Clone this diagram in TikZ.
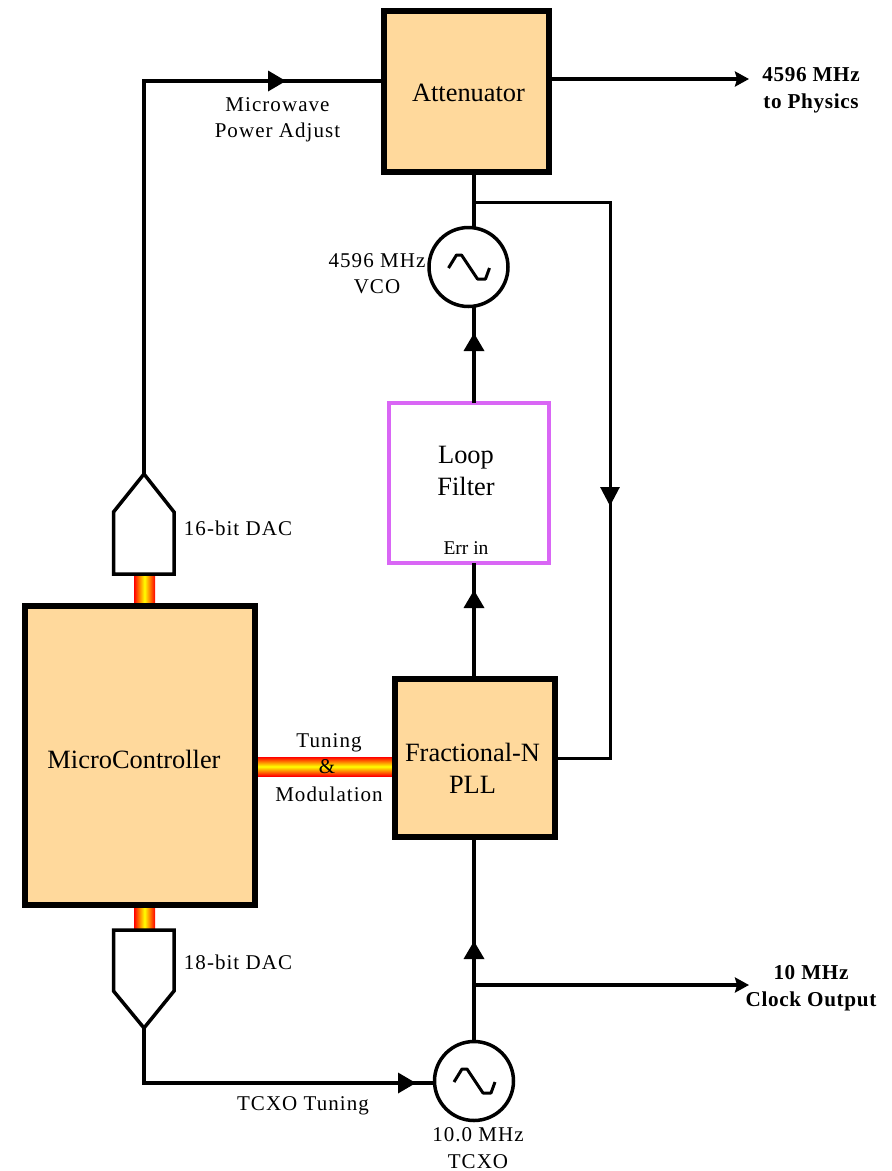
\documentclass[tikz,border=0pt]{standalone}
\usepackage{fontspec}
\setmainfont{Liberation Serif}
\newfontfamily\lblfont[LetterSpace=5]{Liberation Serif}
\newfontfamily\lblbold[LetterSpace=3,BoldFont={Liberation Serif Bold}]{Liberation Serif Bold}
\usetikzlibrary{arrows.meta}
\definecolor{boxfill}{HTML}{FFD99C}
\definecolor{filterpink}{HTML}{D966F5}
\tikzset{
  x=1pt,y=-1pt,
  mainbox/.style={draw=black,line width=6pt,fill=boxfill,inner sep=0pt,outer sep=0pt},
  filterbox/.style={draw=filterpink,line width=4pt,fill=white,inner sep=0pt,outer sep=0pt},
  boxtext/.style={inner sep=0pt,align=center,font=\fontsize{26.4}{32}\selectfont},
  lbl/.style={inner sep=0pt,align=center,font=\fontsize{21}{26.5}\lblfont},
  boldlbl/.style={inner sep=0pt,align=center,font=\fontsize{21.2}{27}\lblbold},
  wire/.style={line width=3.5pt},
  thinwire/.style={line width=3pt},
  arr/.style={wire,-{Triangle[length=18pt,width=20pt]}},
  thinarr/.style={line width=3.3pt,-{Stealth[length=14pt,width=15pt,inset=2pt]}},
  downarr/.style={thinwire,-{Triangle[length=19pt,width=19pt]}},
  osc/.style={circle,draw=black,line width=3.5pt,fill=white,minimum size=79pt,inner sep=0pt,outer sep=0pt},
  dacshape/.style={draw=black,line width=3.5pt,fill=white,line join=miter},
  busv/.style={left color=red,right color=red,middle color=yellow,draw=none},
  bush/.style={top color=red,bottom color=red,middle color=yellow,draw=none},
  sinepic/.pic={\draw[line width=3pt,line join=round] (-20,1)--(-12,-12)--(-7,-12)--(9,12)--(17,12)--(21,1);}
}
\begin{document}
\begin{tikzpicture}
\useasboundingbox (0,0) rectangle (892,1171);
% data buses
\path[busv] (134,574) rectangle (155,606);
\path[busv] (134,906) rectangle (155,932);
\path[bush] (256,757) rectangle (394,776);
% boxes
\node[mainbox,minimum width=165pt,minimum height=161pt] (att) at (466.5,91.5) {};
\node[mainbox,minimum width=230pt,minimum height=299pt] (mcu) at (140,755.5) {};
\node[mainbox,minimum width=160pt,minimum height=158pt] (pll) at (475,758) {};
\node[filterbox,minimum width=160pt,minimum height=160pt] (filt) at (469,483) {};
\node[boxtext] (atttext) at (468.5,93) {Attenuator};
\node[boxtext] (mcutext) at (134,759) {MicroController};
\node[boxtext] (plltext) at (472.5,768) {Fractional-N\\PLL};
\node[boxtext] (filttext) at (466,471) {Loop\\Filter};
\node[inner sep=0pt,font=\fontsize{19.5}{22}\selectfont] (errin) at (466,548) {Err in};
\node[osc] (vco) at (468.5,267) {};
\node[osc] (tcxo) at (474,1081) {};
\pic at (vco.center) {sinepic};
\pic at (tcxo.center) {sinepic};
% DACs
\draw[dacshape] (113.5,574) -- (113.5,512) -- (144,474) -- (174,512) -- (174,574) -- cycle;
\draw[dacshape] (113.5,930) -- (113.5,991) -- (144,1028) -- (174,991) -- (174,930) -- cycle;
\coordinate (dacApex) at (144,474);
\coordinate (dacBApex) at (144,1028);
% coordinates
\coordinate (c1) at (144,81);
\coordinate (tip1) at (286,81);
\coordinate (attL) at (att.west |- c1);
\coordinate (outA) at (749,79);
\coordinate (attR) at (att.east |- outA);
\coordinate (tipVco) at (474,333);
\coordinate (vcoB) at (474,307);
\coordinate (vcoT) at (474,227);
\coordinate (attB) at (474,172);
\coordinate (tapV) at (474,202);
\coordinate (cR1) at (610,202);
\coordinate (tipR) at (610,506);
\coordinate (cR2) at (610,758);
\coordinate (pllR) at (pll.east |- cR2);
\coordinate (filtB) at (474,563);
\coordinate (filtT) at (474,403);
\coordinate (tipF) at (474,590);
\coordinate (pllT) at (474,679);
\coordinate (pllB) at (474,837);
\coordinate (tipT) at (474,941);
\coordinate (tcxoT) at (474,1041);
\coordinate (tapT) at (474,985);
\coordinate (outC) at (749,985);
\coordinate (c2) at (144,1083);
\coordinate (tipC) at (416,1083);
\coordinate (tcxoL) at (434,1083);
% connectors
\draw[wire,line join=miter] (dacApex) -- (c1) -- (attL);
\draw[arr] (c1) -- (tip1);
\draw[thinarr] (attR) -- (outA);
\draw[wire] (attB) -- (vcoT);
\draw[wire] (filtT) -- (vcoB);
\draw[arr] (filtT) -- (tipVco);
\draw[thinwire,line join=miter] (tapV) -- (cR1) -- (cR2) -- (pllR);
\draw[downarr] (cR1) -- (tipR);
\draw[wire] (pllT) -- (filtB);
\draw[arr] (pllT) -- (tipF);
\draw[wire] (tcxoT) -- (pllB);
\draw[arr] (tcxoT) -- (tipT);
\draw[thinarr] (tapT) -- (outC);
\draw[wire,line join=miter] (dacBApex) -- (c2) -- (tcxoL);
\draw[arr] (c2) -- (tipC);
% labels
\node[lbl] (l1) at (277.5,120) {Microwave\\Power Adjust};
\node[boldlbl] (l2) at (811,90) {4596 MHz\\to Physics};
\node[lbl] (l3) at (377,273.5) {4596 MHz\\VCO};
\node[lbl] (l4) at (238,528) {16-bit DAC};
\node[lbl] (l5) at (329,743) {Tuning};
\node[lbl] (l6) at (327,767) {\&};
\node[lbl] (l7) at (329,794) {Modulation};
\node[lbl] (l8) at (238,962) {18-bit DAC};
\node[lbl] (l9) at (303,1106) {TCXO Tuning};
\node[lbl] (l10) at (478,1148) {10.0 MHz\\TCXO};
\node[boldlbl] (l11) at (811,988) {10 MHz\\Clock Output};
\end{tikzpicture}
\end{document}
